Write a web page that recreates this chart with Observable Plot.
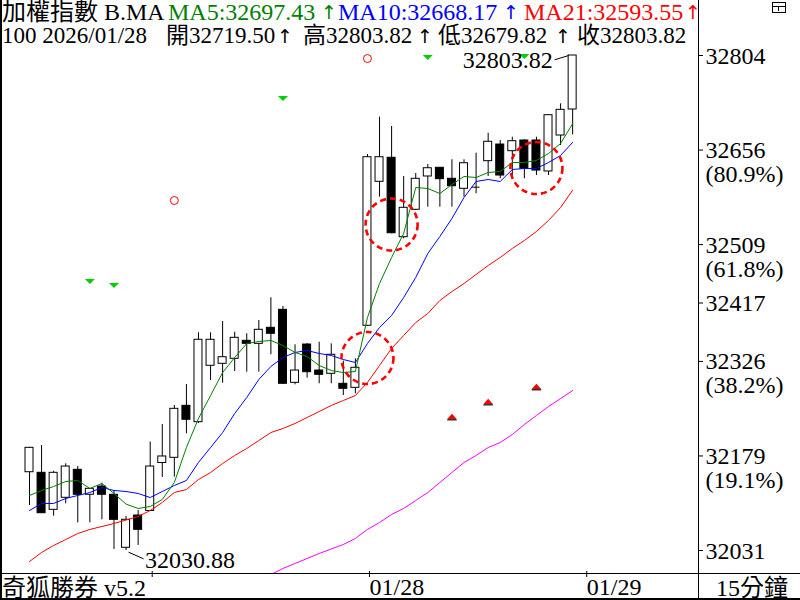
<!DOCTYPE html>
<html lang="zh-Hant">
<head>
<meta charset="utf-8">
<script src="https://cdn.jsdelivr.net/npm/d3@7"></script>
<script src="https://cdn.jsdelivr.net/npm/@observablehq/plot@0.6"></script>
<style>
html,body{margin:0;padding:0;background:#fff;}
#wrap{position:relative;width:800px;height:600px;overflow:hidden;background:#fff;
 font-family:"Liberation Serif","Noto Sans CJK TC",serif;}
#wrap svg{position:absolute;left:0;top:0;}
.t{position:absolute;white-space:pre;font-size:24px;line-height:24px;}
.s{font-size:23px;}
.a{font-family:"DejaVu Sans",sans-serif;font-size:19px;line-height:20px;transform:translateX(-50%);}
.ln{position:absolute;background:#000;}
</style>
</head>
<body>
<div id="wrap"></div>
<script>
// ---- candle data (15-minute bars) ----
const opens  = [32153.1,32152.2,32094.4,32113.2,32156.9,32117.9,32130.8,32117.9,32035.1,32085.5,
                32092.6,32167.5,32175.6,32256.8,32231.2,32319.3,32322.4,32330.2,32358.3,32353.6,
                32378.6,32406.7,32292.7,32352.5,32311.9,32306.8,32291.2,32284.9,32381.8,32606.6,
                32644.1,32520.1,32562.9,32614.9,32628.5,32611.3,32595.7,32598.2,32638.8,32664.8,
                32654.4,32671.1,32671.1,32622.7,32678.9,32719.50];
const highs  = [32192.0,32194.8,32154.7,32166.3,32162.0,32127.7,32136.0,32124.6,32084.0,32093.3,
                32200.3,32227.6,32257.3,32290.1,32370.8,32370.8,32388.5,32371.8,32369.3,32390.0,
                32425.5,32411.9,32352.1,32354.0,32356.1,32353.6,32326.5,32330.2,32649.2,32707.5,
                32693.0,32614.9,32619.6,32633.6,32629.0,32641.0,32641.0,32651.3,32682.5,32671.1,
                32676.2,32672.2,32676.2,32711.0,32728.4,32803.82];
const lows   = [32101.1,32088.7,32084.4,32103.8,32074.1,32074.1,32078.8,32032.5,32030.88,32038.7,
                32092.0,32144.9,32145.5,32213.1,32229.2,32296.3,32292.1,32310.4,32309.3,32309.3,
                32336.5,32290.5,32289.6,32299.9,32291.2,32291.2,32272.9,32275.6,32381.0,32582.6,
                32525.4,32517.6,32561.8,32566.9,32566.9,32566.9,32582.6,32587.9,32614.9,32611.3,
                32613.8,32611.3,32616.4,32616.4,32663.3,32679.82];
const closes = [32191.2,32089.1,32152.2,32162.0,32117.9,32127.2,32117.9,32078.8,32078.8,32063.2,
                32162.0,32177.7,32252.1,32235.0,32359.9,32359.9,32332.7,32363.0,32353.6,32375.5,
                32369.3,32291.2,32311.9,32309.3,32305.2,32336.5,32283.4,32316.2,32645.0,32645.0,
                32526.3,32566.0,32611.3,32627.8,32610.7,32599.7,32635.6,32598.2,32669.1,32616.4,
                32670.0,32626.9,32624.2,32710.6,32719.0,32803.82];

// ---- moving averages ----
const ma5  = [32116.8,32124.6,32130.8,32138.6,32140.2,32127.7,32135.5,32119.9,32103.3,32096.5,
              32099.6,32110.5,32137.1,32191.7,32237.0,32272.9,32308.8,32332.2,32354.1,32357.2,
              32358.8,32351.0,32340.1,32333.8,32319.8,32311.9,32308.8,32310.4,32394.7,32447.8,
              32488.4,32525.9,32597.7,32596.1,32588.3,32602.4,32614.9,32613.3,32621.1,32622.7,
              32636.7,32636.7,32639.9,32650.8,32666.4,32697.43];
const ma10 = [32093.3,32104.3,32104.3,32112.1,32116.8,32121.4,32129.3,32124.6,32123.0,32119.9,
              32113.6,32123.0,32132.4,32140.2,32168.3,32191.7,32215.1,32244.8,32269.8,32297.9,
              32318.2,32332.2,32340.1,32343.2,32338.5,32335.4,32329.1,32324.4,32354.1,32379.1,
              32397.8,32425.9,32457.2,32494.6,32521.2,32549.3,32582.1,32607.1,32610.2,32607.1,
              32625.8,32627.4,32627.4,32636.7,32647.7,32668.17];
const ma21 = [32013.7,32027.8,32038.7,32048.0,32057.4,32063.7,32068.4,32073.0,32078.5,32084.0,
              32093.3,32105.8,32121.4,32126.1,32141.7,32152.7,32166.7,32179.2,32190.2,32202.6,
              32215.1,32221.4,32229.2,32238.6,32247.9,32257.3,32265.1,32272.9,32293.2,32319.8,
              32346.3,32366.6,32386.9,32401.0,32421.3,32435.3,32447.8,32461.9,32475.9,32488.4,
              32502.5,32514.9,32529.0,32546.2,32566.5,32593.55];
const maLongStart = 19;
const maLong = [31985.6,31993.4,32002.8,32010.6,32018.4,32026.2,32033.2,32040.2,32049.6,32063.7,
                32074.6,32087.1,32096.5,32109.0,32121.4,32137.1,32152.7,32168.3,32179.2,32191.7,
                32199.5,32212.0,32227.6,32241.7,32255.7,32268.2,32280.7];

// ---- signals / annotations ----
const sellIdx = [5, 7, 21, 33, 41];
const sellVal = [32450.9, 32444.7, 32736.7, 32800.7, 32802.3];
const buyIdx  = [35, 38, 42];
const buyVal  = [32240.1, 32263.5, 32287.0];
const ringIdx = [12, 28];
const ringVal = [32577.4, 32799.1];
const zoneIdx = [28, 30, 42];
const zoneVal = [32331.5, 32539.9, 32628.1];
const extIdx  = [45, 8];
const extVal  = [32803.82, 32030.88];
const extText = ["32803.82", "32030.88"];

// ---- axes ----
const yTickVals  = [32803.82, 32656.18, 32508.52, 32417.35, 32326.14, 32178.51, 32030.88];
const yTickText  = ["32804", "32656", "32509", "32417", "32326", "32179", "32031"];
const yTickPct   = ["", "(80.9%)", "(61.8%)", "", "(38.2%)", "(19.1%)", ""];
const xTickIdx   = [10, 28, 46];
const xTickText  = ["", "01/28", "01/29"];

// ---- header texts ----
const title      = "加權指數 B.MA";
const maLabels   = ["MA5:32697.43", "MA10:32668.17", "MA21:32593.55"];
const maColors   = ["#008000", "#0000ff", "#ff0000"];
const infoLeft   = "100 2026/01/28";
const infoItems  = ["開32719.50", "高32803.82", "低32679.82", "收32803.82"];
const footLeft   = "奇狐勝券 v5.2";
const footRight  = "15分鐘";

// ---------------------------------------------------------------
const FONT = '"Liberation Serif","Noto Sans CJK TC",serif';
const STEP = 12.07;                 // px per bar
const PV = 772.94 / 495;            // price per px
const candles = opens.map((o, i) => ({i, o, h: highs[i], l: lows[i], c: closes[i]}));
const ser = (arr, s = 0) => arr.map((v, k) => ({i: k + s, v}));
const pts = (ix, vs) => ix.map((i, k) => ({i, v: vs[k]}));

const triDown = {draw(c){c.moveTo(-5,-2.5);c.lineTo(5,-2.5);c.lineTo(0,2.5);c.closePath();}};
const triUp   = {draw(c){c.moveTo(-4.7,2.5);c.lineTo(4.7,2.5);c.lineTo(0,-2.8);c.closePath();}};
const baseLn  = {draw(c){c.moveTo(-4.7,3.3);c.lineTo(4.7,3.3);}};

const hw = 4 / STEP;
const chart = Plot.plot({
  width: 800, height: 600,
  marginTop: 0, marginLeft: 0, marginRight: 102, marginBottom: 27,
  x: {type: "linear", domain: [-29 / STEP, 669 / STEP]},
  y: {domain: [32803.82 - 518 * PV, 32803.82 + 55 * PV]},
  color: {type: "identity"},
  style: {fontFamily: FONT, fontSize: "24px", background: "transparent", overflow: "visible"},
  marks: [
    Plot.axisY(yTickVals, {anchor: "right", tickSize: 4, tickFormat: () => "", label: null, stroke: "#000"}),
    Plot.text(yTickVals, {y: d => d, frameAnchor: "right", dx: 7, textAnchor: "start", lineAnchor: "top",
      dy: -9, lineHeight: 1.0, fill: "#000",
      text: (d, i) => yTickText[i] + (yTickPct[i] ? "\n" + yTickPct[i] : "")}),
    Plot.axisX(xTickIdx, {anchor: "bottom", tickSize: 6, tickPadding: 0, label: null, stroke: "#000",
      textAnchor: "start", dx: 2, dy: -2, fill: "#000",
      tickFormat: d => xTickText[xTickIdx.indexOf(d)]}),
    // candles
    Plot.ruleX(candles, {x: "i", y1: "l", y2: "h", stroke: "#000", strokeWidth: 1}),
    Plot.rect(candles.filter(d => d.o !== d.c), {x1: d => d.i - hw, x2: d => d.i + hw, y1: "o", y2: "c",
      fill: d => d.c > d.o ? "#fff" : "#000", stroke: "#000", strokeWidth: 1}),
    Plot.ruleY(candles.filter(d => d.o === d.c), {y: "o", x1: d => d.i - hw, x2: d => d.i + hw, stroke: "#000"}),
    // moving averages
    Plot.line(ser(maLong, maLongStart), {x: "i", y: "v", stroke: "#ff00ff", strokeWidth: 1, clip: true}),
    Plot.line(ser(ma21), {x: "i", y: "v", stroke: "#ff0000", strokeWidth: 1, clip: true}),
    Plot.line(ser(ma10), {x: "i", y: "v", stroke: "#0000ff", strokeWidth: 1}),
    Plot.line(ser(ma5),  {x: "i", y: "v", stroke: "#008000", strokeWidth: 1}),
    // signals
    Plot.dot(pts(sellIdx, sellVal), {x: "i", y: "v", symbol: triDown, fill: "#00d000", stroke: "none", r: 4}),
    Plot.dot(pts(buyIdx, buyVal), {x: "i", y: "v", symbol: triUp, fill: "#ff0000", stroke: "none", r: 4}),
    Plot.dot(pts(buyIdx, buyVal), {x: "i", y: "v", symbol: baseLn, fill: "none", stroke: "#000", strokeWidth: 1.2, r: 4}),
    Plot.dot(pts(ringIdx, ringVal), {x: "i", y: "v", r: 4, fill: "none", stroke: "#ff0000", strokeWidth: 1}),
    Plot.dot(pts(zoneIdx, zoneVal), {x: "i", y: "v", r: 26, fill: "none", stroke: "#ff0000",
      strokeWidth: 2.6, strokeDasharray: "6,4"}),
    // extreme labels
    Plot.link([0], {x1: extIdx[0] - hw, y1: extVal[0], x2: extIdx[0] - 18 / STEP, y2: extVal[0] - 4.3 * PV,
      stroke: "#000", strokeWidth: 1}),
    Plot.text([extText[0]], {x: extIdx[0], y: extVal[0], text: d => d, textAnchor: "end", dx: -20, dy: 5, fill: "#000"}),
    Plot.link([0], {x1: extIdx[1] + 2.5 / STEP, y1: extVal[1] - 1.7 * PV, x2: extIdx[1] + 17.5 / STEP,
      y2: extVal[1] - 8.3 * PV, stroke: "#000", strokeWidth: 1}),
    Plot.text([extText[1]], {x: extIdx[1], y: extVal[1], text: d => d, textAnchor: "start", dx: 19, dy: 10, fill: "#000"})
  ]
});
const wrap = document.getElementById("wrap");
wrap.appendChild(chart);

function addText(s, x, y, color, cls) {
  const e = document.createElement("div");
  e.className = "t" + (cls ? " " + cls : "");
  e.textContent = s;
  e.style.left = x + "px"; e.style.top = y + "px";
  e.style.color = color || "#000";
  wrap.appendChild(e);
  return e;
}
function addLine(x, y, w, h) {
  const e = document.createElement("div");
  e.className = "ln";
  Object.assign(e.style, {left: x + "px", top: y + "px", width: w + "px", height: h + "px"});
  wrap.appendChild(e);
}
// header line 1
addText(title, 2, 0);
const maX = [168, 338, 524], maArrowX = [329, 511, 693];
maLabels.forEach((s, k) => { addText(s, maX[k], 0, maColors[k]); addText("↑", maArrowX[k], 2, maColors[k], "a"); });
// header line 2
addText(infoLeft, 2, 24, "#000", "s");
const infoX = [166, 303, 438, 577], infoArrowX = [285, 425, 563];
infoItems.forEach((s, k) => { addText(s, infoX[k], 24, "#000", "s"); if (k < 3) addText("↑", infoArrowX[k], 26, "#000", "a"); });
// footer
addText(footLeft, 2, 576);
addText(footRight, 716, 576);
// frame lines
addLine(0, 0, 2, 600);
addLine(698, 0, 1, 600);
addLine(0, 573, 800, 1);
addLine(0, 598, 800, 2);
// small window icon
const icon = document.createElement("div");
Object.assign(icon.style, {position: "absolute", left: "772px", top: "2px", width: "12px", height: "9px",
  border: "1px solid #000"});
wrap.appendChild(icon);
addLine(773, 6, 12, 1);
addLine(778, 6, 1, 5);
</script>
</body>
</html>
